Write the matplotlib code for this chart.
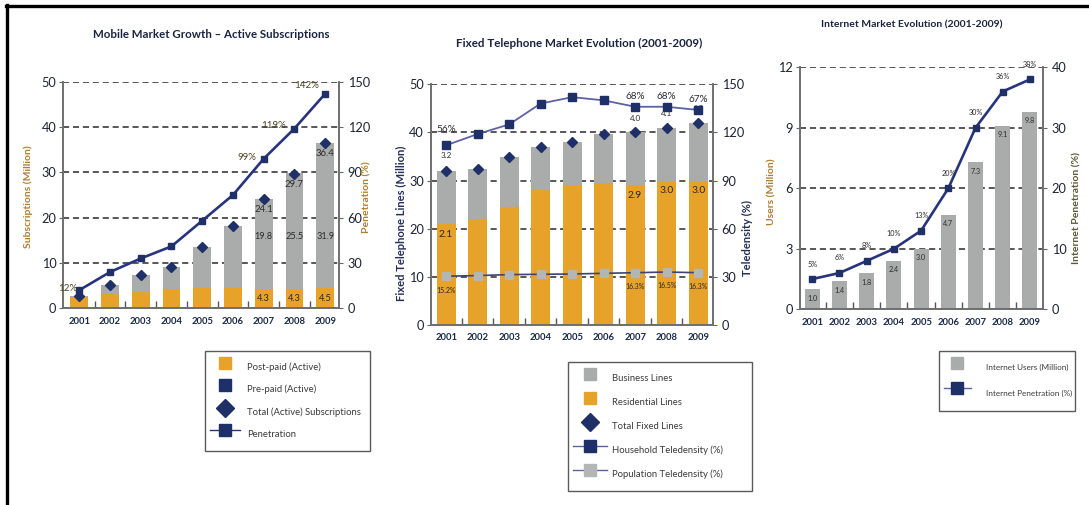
import matplotlib
matplotlib.use("Agg")
import matplotlib.pyplot as plt
from matplotlib.lines import Line2D
from matplotlib.ticker import FixedLocator, FuncFormatter
import numpy as np

# ---------------------------------------------------------------- data
years = ["2001", "2002", "2003", "2004", "2005", "2006", "2007", "2008", "2009"]

# Mobile market (million subscriptions, penetration in %)
mobile_postpaid = [2.6, 3.1, 3.6, 4.3, 4.4, 4.4, 4.3, 4.3, 4.5]
mobile_prepaid = [0.2, 2.0, 3.7, 4.9, 9.1, 13.7, 19.8, 25.5, 31.9]
mobile_total = [2.8, 5.1, 7.3, 9.2, 13.5, 18.1, 24.1, 29.7, 36.4]
mobile_penetration = [12, 24, 33, 41, 58, 75, 99, 119, 142]

# Fixed telephone market (million lines, teledensity in %)
fixed_residential = [2.10, 2.20, 2.45, 2.80, 2.90, 2.95, 2.90, 3.00, 3.00]
fixed_total = [3.20, 3.25, 3.50, 3.70, 3.80, 3.97, 4.00, 4.10, 4.20]
household_teledensity = [56, 59.5, 62.5, 69, 71, 70, 68, 68, 67]
population_teledensity = [15.2, 15.4, 15.7, 15.8, 15.9, 16.1, 16.3, 16.5, 16.3]

# Internet market (million users, penetration in %)
internet_users = [1.0, 1.4, 1.8, 2.4, 3.0, 4.7, 7.3, 9.1, 9.8]
internet_penetration = [5, 6, 8, 10, 13, 20, 30, 36, 38]

labelled_years = [0, 6, 7, 8]

# ---------------------------------------------------------------- style
ORANGE = "#E7A229"
GRAY = "#A9ACAA"
NAVY = "#1F2F68"
LINE_NAVY = "#27337C"
SLATE = "#5C62A6"
TEXT = "#2A2A2A"
TICK = "#1E2233"
BROWN = "#B07E2C"

plt.rcParams["font.family"] = ["Lato", "DejaVu Sans"]

W, H = 1089, 505
fig = plt.figure(figsize=(W / 100, H / 100), dpi=100)
fig.patch.set_facecolor("white")


def fx(x):
    return x / W


def fy(y):
    return 1 - y / H


def make_axes(left, top, right, bottom):
    return fig.add_axes([fx(left), fy(bottom), fx(right - left), (bottom - top) / H])


def style(ax, axr, xlim, ymax_l, step_l, ymax_r, step_r):
    x = np.arange(len(years))
    ax.set_xlim(*xlim)
    ax.set_ylim(0, ymax_l)
    axr.set_ylim(0, ymax_r)
    ax.yaxis.set_major_locator(FixedLocator(np.arange(0, ymax_l + step_l / 2, step_l)))
    axr.yaxis.set_major_locator(FixedLocator(np.arange(0, ymax_r + step_r / 2, step_r)))
    ax.set_xticks(x)
    ax.set_xticklabels(years)
    ax.set_xticks(x[:-1] + 0.5, minor=True)
    ax.tick_params(axis="x", which="major", length=0, pad=6, labelsize=6.8,
                   labelcolor="#1B2A4A")
    for lab in ax.get_xticklabels():
        lab.set_fontweight("bold")
    ax.tick_params(axis="x", which="minor", length=5, direction="in",
                   color="#555555", width=1)
    ax.tick_params(axis="y", length=3, direction="out", color="#666666",
                   labelsize=9.2, labelcolor=TICK, pad=2)
    axr.tick_params(axis="y", length=3, direction="out", color="#666666",
                    labelsize=9.2, labelcolor=TICK, pad=3)
    for a in (ax, axr):
        a.spines["top"].set_visible(False)
        for s in ("left", "right", "bottom"):
            a.spines[s].set_color("#6E6E6E")
            a.spines[s].set_linewidth(1.2)
    ax.set_axisbelow(True)
    ax.yaxis.grid(True, linestyle=(0, (4, 2.5)), color="#2A2A2A", linewidth=1.1)
    axr.set_zorder(ax.get_zorder() + 1)
    axr.patch.set_visible(False)


def add_legend(ax, handles, labels, left, top, width, fs, row_px, pad_px,
               hlen_px, tpad_px):
    em = fs * 100 / 72
    # handle box height that yields the wanted row pitch
    hh = (row_px / em - 0.245) / 0.65
    leg = ax.legend(handles, labels, loc="upper left",
                    bbox_to_anchor=(fx(left), fy(top), fx(width), 0.0001),
                    bbox_transform=fig.transFigure, mode="expand",
                    borderaxespad=0, frameon=True, fancybox=False,
                    edgecolor="#5A5A5A", framealpha=1, fontsize=fs,
                    labelspacing=0, borderpad=pad_px / em,
                    handlelength=hlen_px / em, handleheight=hh,
                    handletextpad=tpad_px / em, labelcolor="#3A3A3A")
    leg.get_frame().set_linewidth(1.0)
    return leg


def label(ax, xy, text, dx, dy, size, color=TEXT, ha="center"):
    ax.annotate(text, xy, xytext=(dx, dy), textcoords="offset points", ha=ha,
                va="center", fontsize=size, color=color, zorder=6)


x = np.arange(len(years))

# ================================================================ Mobile
ax1 = make_axes(63.3, 81.7, 339.3, 308.3)
ax1r = ax1.twinx()
style(ax1, ax1r, (-0.52, 8.46), 50, 10, 150, 30)

ax1.bar(x, mobile_postpaid, width=0.575, color=ORANGE, zorder=2)
ax1.bar(x, mobile_prepaid, width=0.575, bottom=mobile_postpaid, color=GRAY, zorder=2)
ax1.plot(x, mobile_total, ls="none", marker="D", ms=5, color=NAVY, zorder=4)
ax1r.plot(x, mobile_penetration, color=LINE_NAVY, lw=1.9, marker="s", ms=5,
          mfc=NAVY, mec=NAVY, zorder=5)

for i in [6, 7, 8]:
    label(ax1, (x[i], mobile_total[i]), f"{mobile_total[i]:.1f}", 0, -7.5, 6.8)
    ax1.text(x[i], 15.8, f"{mobile_prepaid[i]:.1f}", ha="center", va="center",
             fontsize=6.6, color=TEXT, zorder=6)
    ax1.text(x[i], mobile_postpaid[i] / 2, f"{mobile_postpaid[i]:.1f}",
             ha="center", va="center", fontsize=6.6, color=TEXT, zorder=6)
pen_offsets = {0: (-1.5, 1), 6: (-5.3, 1), 7: (-6.2, 2.4), 8: (-4.3, 5.8)}
for i, (dx, dy) in pen_offsets.items():
    label(ax1r, (x[i], mobile_penetration[i]), f"{mobile_penetration[i]}%",
          dx, dy, 7, color="#4A4422", ha="right")

fig.text(fx(211), fy(34), "Mobile Market Growth \u2013 Active Subscriptions",
         ha="center", va="center", fontsize=8.3, fontweight="bold", color="#1B2440")
fig.text(fx(28), fy(197), "Subscriptions (Million)", rotation=90, ha="center",
         va="center", fontsize=7.5, fontweight="bold", color=BROWN)
fig.text(fx(367), fy(197), "Penetration (%)", rotation=90, ha="center",
         va="center", fontsize=7.5, fontweight="bold", color=BROWN)

h1 = [Line2D([], [], ls="none", marker="s", ms=8, color=ORANGE),
      Line2D([], [], ls="none", marker="s", ms=8, color=NAVY),
      Line2D([], [], ls="none", marker="D", ms=9, color=NAVY),
      Line2D([], [], color=LINE_NAVY, lw=1, marker="s", ms=8, mfc=NAVY, mec=NAVY)]
add_legend(ax1, h1, ["Post-paid (Active)", "Pre-paid (Active)",
                     "Total (Active) Subscriptions", "Penetration"],
           205, 351, 165, 6.8, 22.4, 5.2, 30, 7)

# ================================================================ Fixed
ax2 = make_axes(431, 84.3, 713.3, 325)
ax2r = ax2.twinx()
style(ax2, ax2r, (-0.48, 8.48), 5, 1, 75, 15)
# tick labels shown in hundred-thousand lines and in doubled teledensity points
ax2.yaxis.set_major_formatter(FuncFormatter(lambda v, _: f"{v * 10:.0f}"))
ax2r.yaxis.set_major_formatter(FuncFormatter(lambda v, _: f"{v * 2:.0f}"))

fixed_business = [t - r for t, r in zip(fixed_total, fixed_residential)]
ax2.bar(x, fixed_residential, width=0.6, color=ORANGE, zorder=2)
ax2.bar(x, fixed_business, width=0.6, bottom=fixed_residential, color=GRAY, zorder=2)
ax2.plot(x, fixed_total, ls="none", marker="D", ms=5.5, color=NAVY, zorder=4)
ax2r.plot(x, household_teledensity, color=SLATE, lw=1.3, marker="s", ms=5.5,
          mfc=NAVY, mec=NAVY, zorder=5)
ax2r.plot(x, population_teledensity, color="#3E4373", lw=1.2, marker="s", ms=5.5,
          mfc="#B3B6B4", mec="#B3B6B4", zorder=5)

for i in labelled_years:
    label(ax2, (x[i], fixed_total[i]), f"{fixed_total[i]:.1f}", 0,
          11 if i == 0 else 10, 5.8)
    label(ax2, (x[i], fixed_residential[i]), f"{fixed_residential[i]:.1f}", 0, -7.5, 7.4)
    label(ax2r, (x[i], household_teledensity[i]), f"{household_teledensity[i]:.0f}%",
          0, 11 if i == 0 else 7.7, 7.2, color="#2C2C3A")
    label(ax2r, (x[i], population_teledensity[i]), f"{population_teledensity[i]:.1f}%",
          0, -10, 5.0)

fig.text(fx(579), fy(43), "Fixed Telephone Market Evolution (2001-2009)",
         ha="center", va="center", fontsize=8.4, fontweight="bold", color="#1B2440")
fig.text(fx(401), fy(223), "Fixed Telephone Lines (Million)", rotation=90,
         ha="center", va="center", fontsize=8.1, fontweight="bold", color="#26305A")
fig.text(fx(747), fy(238), "Teledensity (%)", rotation=90, ha="center",
         va="center", fontsize=8.0, fontweight="bold", color="#26305A")

h2 = [Line2D([], [], ls="none", marker="s", ms=8, color=GRAY),
      Line2D([], [], ls="none", marker="s", ms=8, color=ORANGE),
      Line2D([], [], ls="none", marker="D", ms=9.5, color=NAVY),
      Line2D([], [], color=SLATE, lw=1, marker="s", ms=9, mfc=NAVY, mec=NAVY),
      Line2D([], [], color=SLATE, lw=1, marker="s", ms=9, mfc="#B3B6B4", mec="#B3B6B4")]
add_legend(ax2, h2, ["Business Lines", "Residential Lines", "Total Fixed Lines",
                     "Household Teledensity (%)", "Population Teledensity (%)"],
           568.3, 361.7, 183.4, 6.8, 24, 4.7, 34, 5.3)

# ================================================================ Internet
ax3 = make_axes(800, 67.3, 1043.3, 309.3)
ax3r = ax3.twinx()
style(ax3, ax3r, (-0.45, 8.49), 12, 3, 40, 10)

ax3.bar(x, internet_users, width=0.55, color=GRAY, zorder=2)
ax3r.plot(x, internet_penetration, color=LINE_NAVY, lw=1.9, marker="s", ms=5,
          mfc=NAVY, mec=NAVY, zorder=5)
for i in range(len(years)):
    label(ax3, (x[i], internet_users[i]), f"{internet_users[i]:.1f}", 0, -6.5, 5.2)
    label(ax3r, (x[i], internet_penetration[i]), f"{internet_penetration[i]}%",
          0, 10.8, 5.2)

fig.text(fx(912), fy(25), "Internet Market Evolution (2001-2009)",
         ha="center", va="center", fontsize=7.5, fontweight="bold", color="#1B2440")
fig.text(fx(772), fy(192), "Users (Million)", rotation=90, ha="center",
         va="center", fontsize=7.5, fontweight="bold", color=BROWN)
fig.text(fx(1077), fy(208), "Internet Penetration (%)", rotation=90, ha="center",
         va="center", fontsize=7.5, fontweight="bold", color="#5E5634")

h3 = [Line2D([], [], ls="none", marker="s", ms=8, color=GRAY),
      Line2D([], [], color=SLATE, lw=1, marker="s", ms=8, mfc=NAVY, mec=NAVY)]
add_legend(ax3, h3, ["Internet Users (Million)", "Internet Penetration (%)"],
           939, 350.7, 136, 5.9, 25.5, 4.5, 27, 15.7)

# ---------------------------------------------------------------- frame
fig.add_artist(Line2D([fx(6), 1], [fy(5.5), fy(5.5)], color="black", lw=2.4,
                      transform=fig.transFigure))
fig.add_artist(Line2D([fx(6.5), fx(6.5)], [fy(5), 0], color="black", lw=2.4,
                      transform=fig.transFigure))

fig.savefig("out.png", dpi=100, facecolor="white")
